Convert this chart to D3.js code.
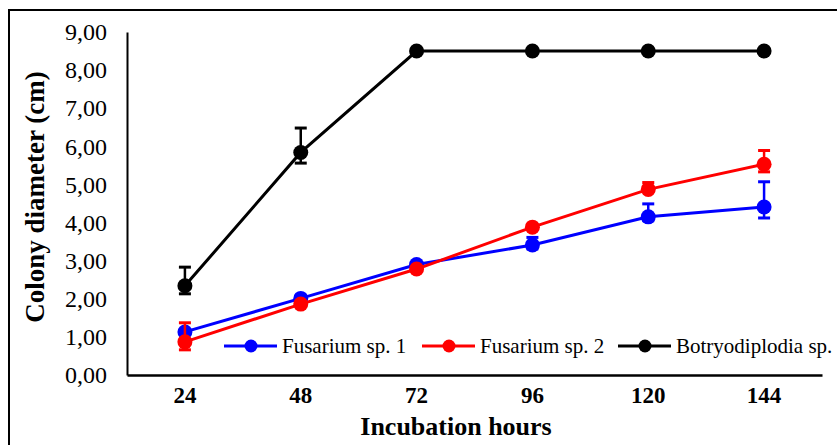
<!DOCTYPE html>
<html><head><meta charset="utf-8">
<script src="https://cdn.jsdelivr.net/npm/d3@7"></script>
<style>body{margin:0;background:#fff}svg{display:block}</style>
</head><body>
<svg id="c" width="837" height="445"></svg>
<script>
const hours = ["24","48","72","96","120","144"];
const yTicks = [0,1,2,3,4,5,6,7,8,9];
const seriesNames = ["Fusarium sp. 1","Fusarium sp. 2","Botryodiplodia sp."];
const seriesColors = ["#0000FF","#FF0000","#000000"];
const fus1 = [1.13, 2.01, 2.90, 3.41, 4.15, 4.41];
const fus1Plus = [0.05, 0.05, 0.05, 0.20, 0.34, 0.66];
const fus1Minus = [0.05, 0.05, 0.05, 0.10, 0.10, 0.29];
const fus2 = [0.87, 1.86, 2.78, 3.88, 4.87, 5.53];
const fus2Plus = [0.50, 0.05, 0.05, 0.05, 0.18, 0.36];
const fus2Minus = [0.21, 0.05, 0.05, 0.05, 0.05, 0.20];
const botr = [2.34, 5.84, 8.50, 8.50, 8.50, 8.50];
const botrPlus = [0.49, 0.64, 0, 0, 0, 0];
const botrMinus = [0.21, 0.28, 0, 0, 0, 0];

const series = [
  {name: seriesNames[0], color: seriesColors[0], v: fus1, p: fus1Plus, m: fus1Minus},
  {name: seriesNames[1], color: seriesColors[1], v: fus2, p: fus2Plus, m: fus2Minus},
  {name: seriesNames[2], color: seriesColors[2], v: botr, p: botrPlus, m: botrMinus}
];

const svg = d3.select("#c");
const font = "Liberation Serif, Times New Roman, serif";
const L = 127, R = 822, T = 32, B = 375;

// outer border
svg.append("rect").attr("x",9).attr("y",10).attr("width",900).attr("height",500)
  .attr("fill","none").attr("stroke","#000").attr("stroke-width",2);

const x = d3.scaleBand().domain(hours).range([L,R]);
const y = d3.scaleLinear().domain([0,9]).range([B,T]);
const fmt = d => d3.format(".2f")(d).replace(".", ",");

// y axis
const ya = svg.append("g").attr("transform",`translate(${L},0)`)
  .call(d3.axisLeft(y).tickValues(yTicks).tickFormat(fmt).tickSize(0).tickPadding(20));
ya.select(".domain").attr("stroke","#000").attr("stroke-width",2);
ya.selectAll("text").attr("font-family",font).attr("font-size",24).attr("fill","#000");

// x axis
const xa = svg.append("g").attr("transform",`translate(0,${B})`)
  .call(d3.axisBottom(x).tickSize(0).tickPadding(12));
xa.select(".domain").attr("stroke","#000").attr("stroke-width",2.5);
xa.selectAll("text").attr("font-family",font).attr("font-size",23).attr("font-weight","bold").attr("fill","#000");

// axis titles
svg.append("text").attr("x",456).attr("y",435).attr("text-anchor","middle")
  .attr("font-family",font).attr("font-size",26).attr("font-weight","bold").text("Incubation hours");
svg.append("text").attr("transform","translate(44,197) rotate(-90)").attr("text-anchor","middle")
  .attr("font-family",font).attr("font-size",27).attr("font-weight","bold").text("Colony diameter (cm)");

const cx = h => x(h) + x.bandwidth()/2;
const line = d3.line().x((d,i)=>cx(hours[i])).y(d=>y(d));

series.forEach(s => {
  const g = svg.append("g");
  // error bars
  s.v.forEach((v,i) => {
    const X = cx(hours[i]);
    if (s.p[i] > 0) {
      g.append("line").attr("x1",X).attr("x2",X).attr("y1",y(v)).attr("y2",y(v+s.p[i])).attr("stroke",s.color).attr("stroke-width",2.5);
      g.append("line").attr("x1",X-6).attr("x2",X+6).attr("y1",y(v+s.p[i])).attr("y2",y(v+s.p[i])).attr("stroke",s.color).attr("stroke-width",3);
    }
    if (s.m[i] > 0) {
      g.append("line").attr("x1",X).attr("x2",X).attr("y1",y(v)).attr("y2",y(v-s.m[i])).attr("stroke",s.color).attr("stroke-width",2.5);
      g.append("line").attr("x1",X-6).attr("x2",X+6).attr("y1",y(v-s.m[i])).attr("y2",y(v-s.m[i])).attr("stroke",s.color).attr("stroke-width",3);
    }
  });
  g.append("path").attr("d",line(s.v)).attr("fill","none").attr("stroke",s.color).attr("stroke-width",3);
  g.selectAll("circle").data(s.v).join("circle")
    .attr("cx",(d,i)=>cx(hours[i])).attr("cy",d=>y(d)).attr("r",7.5).attr("fill",s.color);
});

// legend
const legX = [224, 422, 618];
const legY = 346;
series.forEach((s,i) => {
  const g = svg.append("g").attr("transform",`translate(${legX[i]},${legY})`);
  g.append("line").attr("x1",0).attr("x2",53).attr("y1",0).attr("y2",0).attr("stroke",s.color).attr("stroke-width",3);
  g.append("circle").attr("cx",27).attr("cy",0).attr("r",6.5).attr("fill",s.color);
  g.append("text").attr("x",58).attr("y",0).attr("dy","0.35em")
    .attr("font-family",font).attr("font-size",21).attr("fill","#000").text(s.name);
});
</script>
</body></html>
